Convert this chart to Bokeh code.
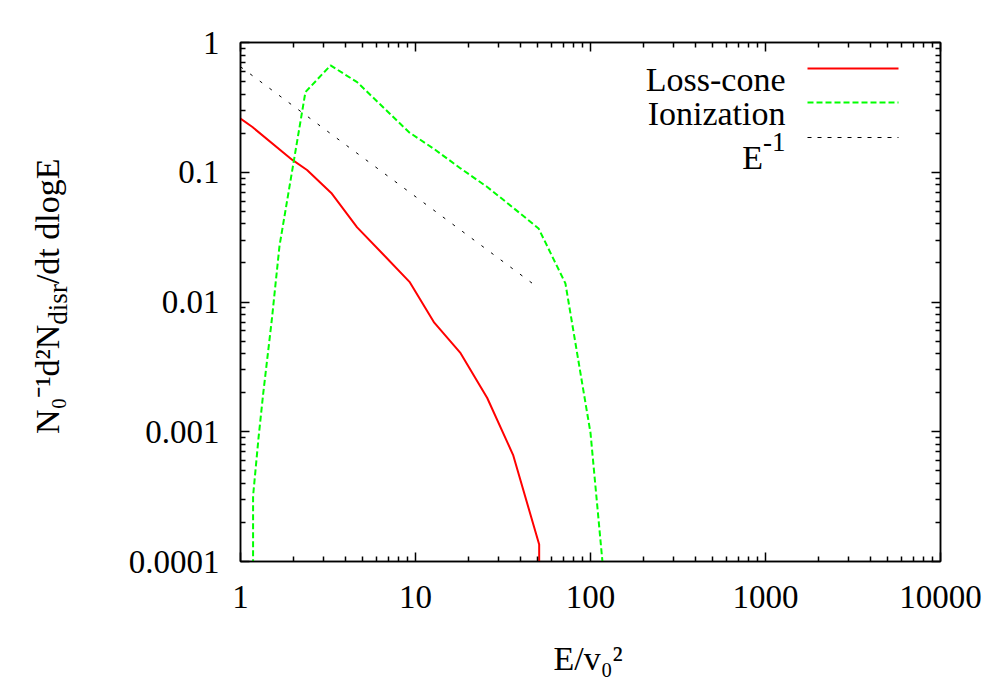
import math
from bokeh.plotting import figure
from bokeh.models import Range1d, FixedTicker, LogAxis, Label
from bokeh.embed import file_html
from bokeh.resources import INLINE

# ---------------- data ----------------
loss_cone_E = [1.0, 1.17, 1.97, 2.40, 3.30, 4.64, 6.59, 9.24, 12.8, 18.1, 25.7, 36.2, 50.9, 50.9]
loss_cone_rate = [0.259, 0.223, 0.125, 0.104, 0.0693, 0.0376, 0.0230, 0.0143, 0.00693,
                  0.00403, 0.00182, 0.000657, 0.000135, 0.00001]

ionization_E = [1.18, 1.18, 1.27, 1.35, 1.51, 1.67, 2.35, 3.27, 4.64, 9.16, 12.7, 18.1,
                25.7, 35.7, 50.5, 71.9, 100.0, 117.0]
ionization_rate = [0.00001, 0.00032, 0.00092, 0.0020, 0.0073, 0.027, 0.415, 0.666, 0.495,
                   0.204, 0.152, 0.107, 0.077, 0.054, 0.0369, 0.0139, 0.00098, 0.0001]

powerlaw_E = [1.0, 48.0]
powerlaw_rate = [0.65, 0.0135]

series_names = ["Loss-cone", "Ionization", "E"]

x_ticks = [1, 10, 100, 1000, 10000]
x_tick_labels = ["1", "10", "100", "1000", "10000"]
y_ticks = [0.0001, 0.001, 0.01, 0.1, 1]
y_tick_labels = ["0.0001", "0.001", "0.01", "0.1", "1"]

x_title = "E/v\u2080\u00b2"
y_title_parts = ["N\u2080\u207b\u00b9d\u00b2N", "disr", "/dt dlogE"]

# ---------------- layout ----------------
W, H = 992, 692
FL, FT, FW, FH = 240, 42, 700, 519          # frame left/top/width/height in canvas px
FONT = "Liberation Serif"
MAIN = 34
SMALL = 27
TICK = 33

def dx(px):
    """canvas pixel x -> data x (log axis 1..1e4)"""
    return 10 ** (4.0 * (px - FL) / FW)

def dy(py):
    """canvas pixel y -> data y (log axis 1e-4..1)"""
    return 10 ** (-4.0 * (py - FT) / FH)

# Times/Liberation Serif advance widths (em)
CW = {"N": 0.722, "E": 0.611, "d": 0.5, "i": 0.278, "s": 0.389, "r": 0.333, "t": 0.278,
      " ": 0.25, "l": 0.278, "o": 0.5, "g": 0.5, "/": 0.278, "v": 0.5, "-": 0.333,
      "0": 0.5, "1": 0.5, "2": 0.5}

def tw(s, size):
    return sum(CW.get(c, 0.5) for c in s) * size

p = figure(width=W, height=H, x_axis_type="log", y_axis_type="log",
           x_range=Range1d(1, 10000), y_range=Range1d(1e-4, 1),
           output_backend="svg", toolbar_location=None,
           min_border_left=FL, min_border_right=W - FL - FW,
           min_border_top=FT, min_border_bottom=H - FT - FH)
p.grid.visible = False
p.outline_line_color = "black"
p.outline_line_width = 1.5
p.background_fill_color = "white"
p.border_fill_color = "white"

x_minor = [m * 10 ** k for k in range(0, 4) for m in range(2, 10)]
y_minor = [m * 10.0 ** k for k in range(-4, 0) for m in range(2, 10)]

def style_axis(ax, ticks, minor, labels):
    ax.ticker = FixedTicker(ticks=ticks, minor_ticks=minor)
    ax.major_label_overrides = {t: l for t, l in zip(ticks, labels)}
    ax.major_tick_in = 9
    ax.major_tick_out = 0
    ax.minor_tick_in = 5
    ax.minor_tick_out = 0
    ax.axis_line_width = 1.5
    ax.major_tick_line_width = 1.5
    ax.minor_tick_line_width = 1.5
    ax.axis_line_color = "black"
    ax.major_tick_line_color = "black"
    ax.minor_tick_line_color = "black"
    ax.major_label_text_font = FONT
    ax.major_label_text_font_size = f"{TICK}px"
    ax.major_label_text_color = "black"

style_axis(p.xaxis[0], x_ticks, x_minor, x_tick_labels)
style_axis(p.yaxis[0], y_ticks, y_minor, y_tick_labels)
p.xaxis[0].major_label_standoff = 24
p.yaxis[0].major_label_standoff = 21

top = LogAxis()
style_axis(top, x_ticks, x_minor, ["" for _ in x_ticks])
top.major_label_text_font_size = "0px"
p.add_layout(top, "above")
right = LogAxis()
style_axis(right, y_ticks, y_minor, ["" for _ in y_ticks])
right.major_label_text_font_size = "0px"
p.add_layout(right, "right")

# ---------------- curves ----------------
p.line(loss_cone_E, loss_cone_rate, line_color="#ff0000", line_width=2)
p.line(ionization_E, ionization_rate, line_color="#00ff00", line_width=2, line_dash="6 3")
p.line(powerlaw_E, powerlaw_rate, line_color="black", line_width=1, line_dash="3 9")

# ---------------- text helpers (canvas pixel units) ----------------
def lab(px, py, text, size, align="left", angle=0.0, place="center"):
    L = Label(x=px, y=py, x_units="canvas", y_units="canvas", text=text,
              text_font=FONT, text_font_size=f"{size}px", text_color="black",
              text_align=align, text_baseline="alphabetic", angle=angle)
    if place == "center":
        p.add_layout(L)
    else:
        p.add_layout(L, place)

# x-axis title
lab(553, 658, x_title, MAIN, place="below")

# y-axis title (rotated), anchored from its far end (top of the picture)
ybase = 47
yend = 158
seg_rest = tw(y_title_parts[2], MAIN)
seg_sub = tw(y_title_parts[1], SMALL)
lab(ybase, yend, y_title_parts[2], MAIN, align="right", angle=math.pi / 2, place="left")
lab(ybase + 10, yend + seg_rest, y_title_parts[1], SMALL, align="right",
    angle=math.pi / 2, place="left")
lab(ybase, yend + seg_rest + seg_sub, y_title_parts[0], MAIN, align="right",
    angle=math.pi / 2, place="left")

# ---------------- legend (text left of sample, as in the reference) ----------------
leg_text_right = 785
leg_line_x = (807, 898)
rows = [(79, 68), (113, 102), (157, 137)]
styles = [dict(line_color="#ff0000", line_width=2),
          dict(line_color="#00ff00", line_width=2, line_dash="6 3"),
          dict(line_color="black", line_width=1, line_dash="4 6")]
for i, (name, (base, ly), st) in enumerate(zip(series_names, rows, styles)):
    if i < 2:
        lab(leg_text_right, base, name, MAIN, align="right")
    else:
        sup_w = tw("-1", SMALL)
        lab(leg_text_right - sup_w, base, name, MAIN, align="right")
        lab(leg_text_right - sup_w, base - 16, "-1", SMALL, align="left")
    p.line([dx(leg_line_x[0]), dx(leg_line_x[1])], [dy(ly), dy(ly)], **st)

open("out.html", "w").write(file_html(p, INLINE))
